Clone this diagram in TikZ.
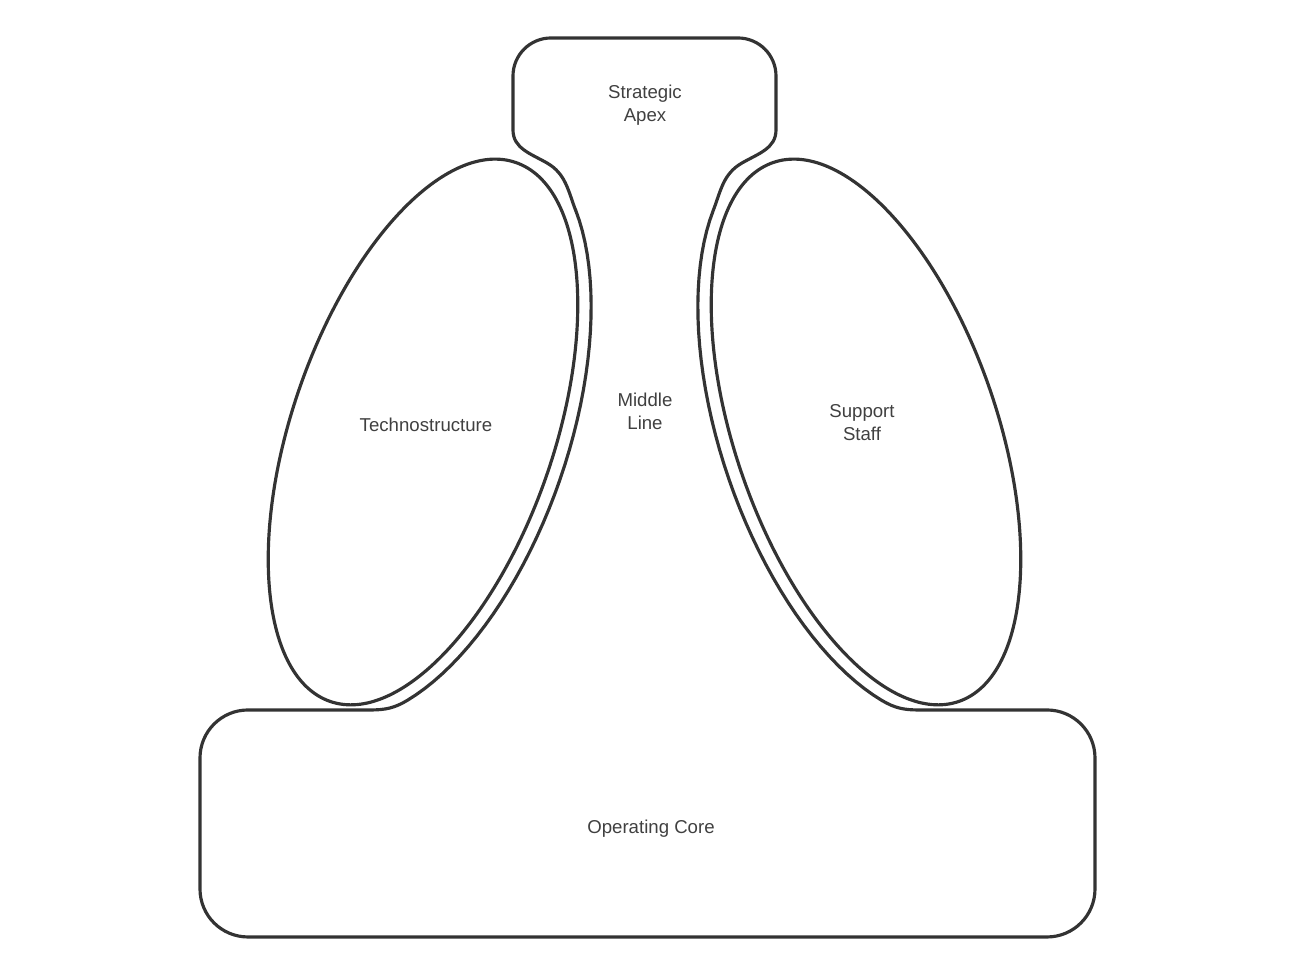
\documentclass[tikz,border=0pt]{standalone}
\usepackage{fontspec}
\setmainfont{Liberation Sans}
\usepackage{tikz}

\begin{document}
\begin{tikzpicture}[
    outline/.style={line width=0.9pt, draw=black!80},
    txt/.style={align=center, text=black!75, font=\fontsize{5.3}{6.6}\selectfont}
  ]
    \useasboundingbox (0,0) rectangle (12.98,9.65);
    % --- outer outline: strategic apex, middle line and operating core in one line ---
    \draw[outline] (7.38,9.27) -- (5.51,9.27) arc[start angle=90, end angle=180, radius=0.38]
        -- (5.13,8.35) to[out=-90, in=150] (5.47,8.02) to[out=-30, in=111] (5.758,7.542)
        % left side of the middle line: kept parallel to the technostructure
        -- plot[domain=60:-60, samples=41, variable=\t]
            ({4.23+2.99*sin(\t)*0.3256+1.45*cos(\t)*0.9455}, {5.33+2.99*sin(\t)*0.9455-1.45*cos(\t)*0.3256})
        to[out=-149, in=0] (3.70,2.55)
        % operating core
        -- (2.48,2.55) arc[start angle=90, end angle=180, radius=0.48]
        -- (2.00,0.76) arc[start angle=180, end angle=270, radius=0.48]
        -- (10.47,0.28) arc[start angle=-90, end angle=0, radius=0.48]
        -- (10.95,2.07) arc[start angle=0, end angle=90, radius=0.48]
        -- (9.19,2.55) to[out=180, in=-31] (8.818,2.646)
        % right side of the middle line: kept parallel to the support staff
        -- plot[domain=-60:60, samples=41, variable=\t]
            ({8.66-2.99*sin(\t)*0.3256-1.45*cos(\t)*0.9455}, {5.33+2.99*sin(\t)*0.9455-1.45*cos(\t)*0.3256})
        to[out=69, in=-150] (7.42,8.02) to[out=30, in=-90] (7.76,8.35)
        -- (7.76,8.89) arc[start angle=0, end angle=90, radius=0.38] -- cycle;
    % --- the two staff parts (tilted ellipses) ---
    \draw[outline, rotate around={-19:(4.23,5.33)}] (4.23,5.33) ellipse (1.31 and 2.85);
    \draw[outline, rotate around={19:(8.66,5.33)}] (8.66,5.33) ellipse (1.31 and 2.85);
    % --- labels ---
    \node[txt] (apex) at (6.45,8.60) {Strategic\\Apex};
    \node[txt] (middle) at (6.45,5.54) {Middle\\Line};
    \node[txt] (techno) at (4.26,5.40) {Technostructure};
    \node[txt] (support) at (8.62,5.42) {Support\\Staff};
    \node[txt] (core) at (6.51,1.36) {Operating Core};
\end{tikzpicture}
\end{document}
